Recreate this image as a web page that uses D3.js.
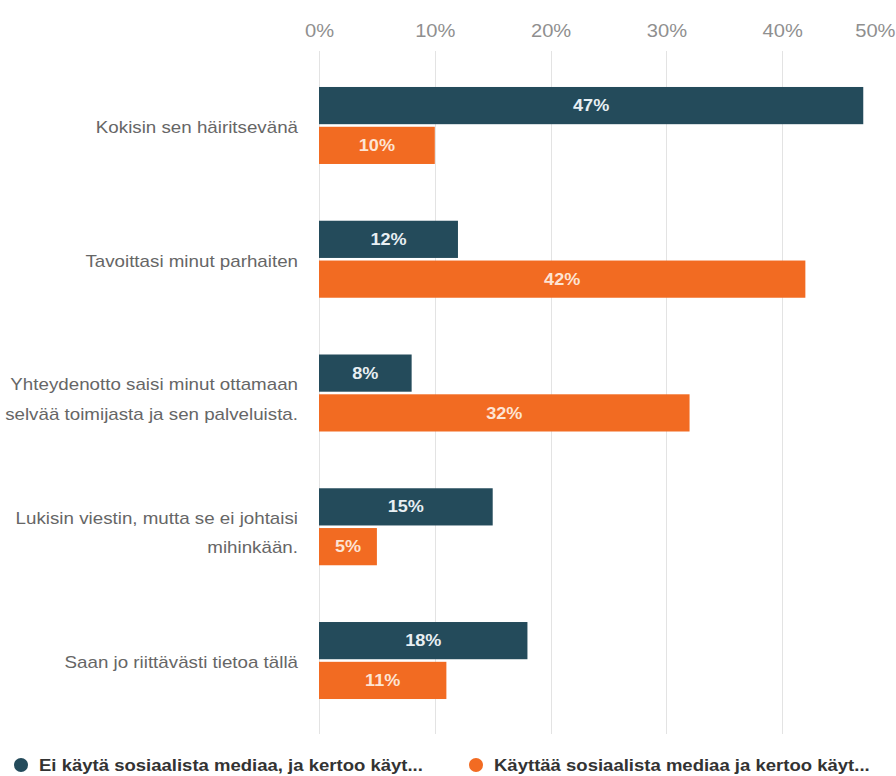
<!DOCTYPE html>
<html>
<head>
<meta charset="utf-8">
<script src="https://cdn.jsdelivr.net/npm/d3@7"></script>
<style>
  html, body { margin: 0; padding: 0; background: #fff; }
  svg { display: block; font-family: "Liberation Sans", Arial, Helvetica, sans-serif; }
</style>
</head>
<body>
<svg id="chart" width="896" height="776"></svg>
<script>
// Survey answers, two respondent groups
const categories = [
  ["Kokisin sen häiritsevänä"],
  ["Tavoittasi minut parhaiten"],
  ["Yhteydenotto saisi minut ottamaan", "selvää toimijasta ja sen palveluista."],
  ["Lukisin viestin, mutta se ei johtaisi", "mihinkään."],
  ["Saan jo riittävästi tietoa tällä"]
];
const seriesNames = [
  "Ei käytä sosiaalista mediaa, ja kertoo käyt...",
  "Käyttää sosiaalista mediaa ja kertoo käyt..."
];
const noSocialMedia = [47, 12, 8, 15, 18];
const usesSocialMedia = [10, 42, 32, 5, 11];
const tickValues = [0, 10, 20, 30, 40, 50];

const colors = ["#244b5b", "#f26b22"];
const W = 896, H = 776;
const stretch = 1.13; // slightly wide lettering
const svg = d3.select("#chart");

const x = d3.scaleLinear().domain([0, 50]).range([319, 898]);
const y = d3.scaleBand().domain(d3.range(categories.length)).range([58.6, 727.4]);
const inner = d3.scaleBand().domain([0, 1]).range([0, 77]).paddingInner(5 / 77);

// Vertical grid
const grid = svg.append("g");
grid.selectAll("line").data(tickValues).join("line")
  .attr("x1", d => Math.round(x(d)) + 0.5).attr("x2", d => Math.round(x(d)) + 0.5)
  .attr("y1", 51).attr("y2", 734)
  .attr("stroke", "#e3e3e3").attr("stroke-width", 1);

// Top axis labels
const axis = d3.axisTop(x).tickValues(tickValues).tickSize(0).tickPadding(0)
  .tickFormat(d => d + "%");
const axG = svg.append("g").attr("transform", "translate(0,37)").call(axis);
axG.select(".domain").remove();
const last = tickValues.length - 1;
axG.selectAll("text")
  .attr("font-size", 17.5).attr("fill", "#8f8f8f")
  .attr("font-family", "\"Liberation Sans\", Arial, sans-serif")
  .attr("text-anchor", (d, i) => i === last ? "end" : "middle")
  .attr("transform", (d, i) => {
    const shift = i === last ? (W - 1 - x(d)) : 0;
    return `translate(${shift},0) scale(1.15,1)`;
  });

// Bars per group
const rows = categories.map((c, i) => ({ i, vals: [noSocialMedia[i], usesSocialMedia[i]] }));
const groups = svg.append("g").selectAll("g").data(rows).join("g")
  .attr("transform", d => `translate(0,${y(d.i) + (y.bandwidth() - 77) / 2})`);

groups.selectAll("rect").data(d => d.vals.map((v, s) => ({ v, s }))).join("rect")
  .attr("x", x(0))
  .attr("y", d => inner(d.s))
  .attr("width", d => x(d.v) - x(0))
  .attr("height", inner.bandwidth())
  .attr("fill", d => colors[d.s]);

groups.selectAll("text.val").data(d => d.vals.map((v, s) => ({ v, s }))).join("text")
  .attr("class", "val")
  .attr("transform", d => `translate(${(x(0) + x(d.v)) / 2},${inner(d.s) + inner.bandwidth() / 2}) scale(${stretch},1)`)
  .attr("dy", "0.35em")
  .attr("text-anchor", "middle")
  .attr("font-size", 16).attr("font-weight", "bold")
  .attr("fill", d => d.s === 0 ? "#e8eff3" : "#fde4d4")
  .text(d => d.v + "%");

// Category labels
const labels = svg.append("g").selectAll("text").data(categories).join("text")
  .attr("text-anchor", "end")
  .attr("font-size", 16.6).attr("fill", "#666")
  .attr("transform", (d, i) => {
    const cy = y(i) + y.bandwidth() / 2 + (d.length > 1 ? 6 : 1.5);
    return `translate(298,${cy}) scale(${stretch},1)`;
  });
labels.selectAll("tspan").data(d => d.map((t, k) => ({ t, k, n: d.length }))).join("tspan")
  .attr("x", 0)
  .attr("y", d => (d.k - (d.n - 1) / 2) * 29.5)
  .attr("dy", "0.35em")
  .text(d => d.t);

// Legend
const legendX = [21, 476];
const leg = svg.append("g").selectAll("g").data(seriesNames).join("g")
  .attr("transform", (d, i) => `translate(${legendX[i]},765)`);
leg.append("circle").attr("r", 7).attr("fill", (d, i) => colors[i]);
leg.append("text")
  .attr("transform", `translate(18,0) scale(${stretch},1)`)
  .attr("dy", "0.35em")
  .attr("font-size", 16.4).attr("font-weight", "bold").attr("fill", "#333")
  .text(d => d);
</script>
</body>
</html>
